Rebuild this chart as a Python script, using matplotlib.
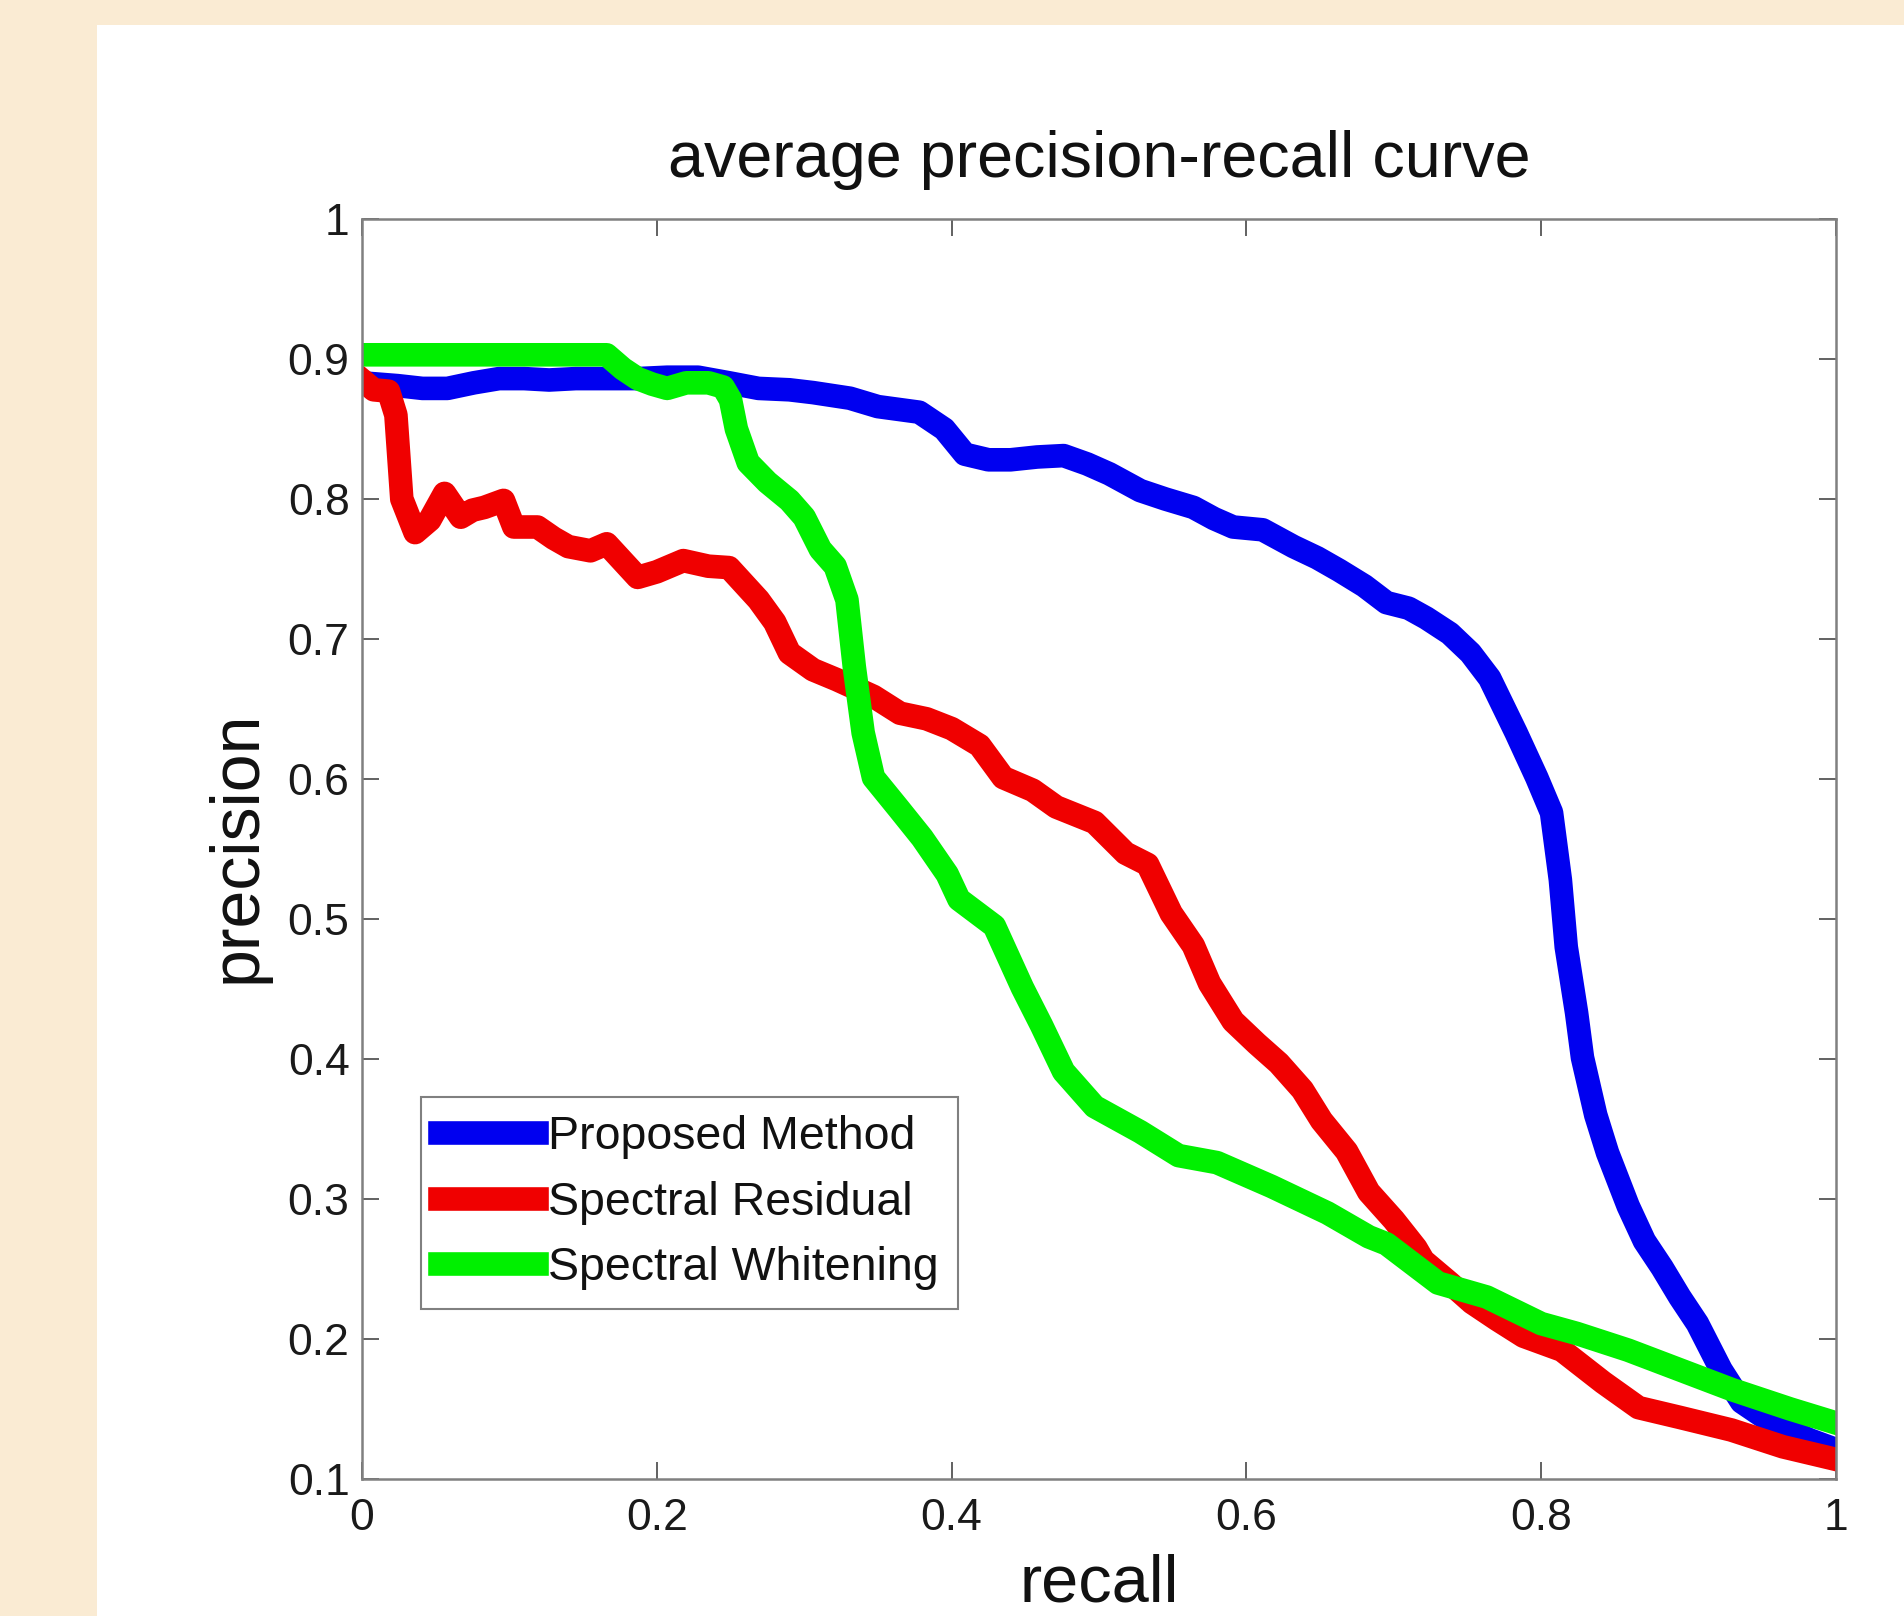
import numpy as np
import matplotlib
matplotlib.use("Agg")
import matplotlib.pyplot as plt
from matplotlib.patches import Rectangle

plt.rcParams['font.family'] = ['Liberation Sans', 'DejaVu Sans']

# proposed method (blue)
rec_prop = [0, .024, .041, .058, .076, .093, .110, .127, .145, .166, .187, .207, .228, .249,
            .269, .290, .306, .331, .350, .378, .395, .409, .425, .440, .458, .476, .492, .507,
            .528, .545, .564, .578, .591, .611, .632, .648, .663, .680, .695, .710, .722, .738,
            .752, .765, .783, .797, .807, .813, .817, .824, .828, .837, .845, .859, .870, .882,
            .894, .906, .922, .936, .950, .964, .982, 1.0]
prec_prop = [.883, .881, .879, .879, .883, .886, .886, .885, .886, .886, .886, .887, .887, .883,
             .879, .878, .876, .872, .866, .862, .850, .832, .828, .828, .830, .831, .825, .818,
             .806, .800, .794, .786, .780, .778, .766, .758, .749, .738, .726, .722, .715, .704,
             .690, .672, .633, .601, .576, .528, .480, .433, .401, .360, .333, .295, .270, .251,
             .230, .211, .178, .155, .145, .137, .128, .121]

# spectral residual (red)
rec_sr = [0, .008, .018, .023, .027, .036, .046, .056, .067, .075, .083, .096, .103, .119, .130,
          .140, .155, .166, .187, .200, .218, .235, .249, .269, .280, .290, .306, .322, .347, .365,
          .383, .400, .419, .435, .455, .471, .497, .518, .533, .549, .564, .575, .591, .607, .622,
          .638, .651, .668, .683, .700, .715, .720, .738, .753, .770, .788, .814, .842, .866, .894,
          .929, .964, 1.0]
prec_sr = [.885, .878, .877, .860, .800, .776, .785, .804, .787, .792, .794, .799, .780, .780, .772,
           .766, .763, .768, .744, .748, .756, .752, .751, .728, .712, .690, .678, .671, .659, .647,
           .643, .636, .624, .601, .592, .580, .569, .547, .539, .504, .481, .454, .427, .411, .397,
           .378, .356, .334, .305, .285, .265, .256, .240, .226, .214, .202, .192, .169, .151, .144,
           .135, .123, .114]

# spectral whitening (green)
rec_sw = [0, .05, .10, .166, .177, .187, .197, .207, .220, .235, .245, .250, .254, .262, .275, .290,
          .300, .311, .321, .329, .334, .340, .347, .364, .380, .397, .405, .429, .448, .461, .476,
          .497, .528, .554, .580, .617, .655, .683, .695, .730, .763, .800, .824, .859, .894, .929,
          .969, 1.0]
prec_sw = [.903, .903, .903, .903, .893, .886, .882, .879, .883, .883, .880, .871, .850, .826, .812,
           .799, .787, .764, .752, .728, .680, .633, .601, .579, .558, .532, .514, .495, .451, .424,
           .391, .366, .348, .331, .326, .309, .290, .273, .268, .240, .230, .211, .204, .192, .178,
           .164, .150, .140]

labels = ['Proposed Method', 'Spectral Residual', 'Spectral Whitening']
xticks = [0, 0.2, 0.4, 0.6, 0.8, 1]
xtick_labels = ['0', '0.2', '0.4', '0.6', '0.8', '1']
yticks = [0.1, 0.2, 0.3, 0.4, 0.5, 0.6, 0.7, 0.8, 0.9, 1]
ytick_labels = ['0.1', '0.2', '0.3', '0.4', '0.5', '0.6', '0.7', '0.8', '0.9', '1']

fig = plt.figure(figsize=(19.04, 16.16), dpi=100, facecolor='#FAEBD3')
fig.patches.append(Rectangle((97/1904, 0), 1, 1 - 25/1616, transform=fig.transFigure,
                             facecolor='white', edgecolor='none', zorder=-10))

ax = fig.add_axes([362/1904, 1 - 1479/1616, 1474/1904, 1260/1616])
ax.set_zorder(1)
ax.set_facecolor('white')

lw = 17
ax.plot(rec_prop, prec_prop, color='#0000F0', lw=lw, label=labels[0], solid_joinstyle='round')
ax.plot(rec_sr, prec_sr, color='#F00000', lw=lw, label=labels[1], solid_joinstyle='round')
ax.plot(rec_sw, prec_sw, color='#00F000', lw=lw, label=labels[2], solid_joinstyle='round')

ax.set_xlim(0, 1)
ax.set_ylim(0.1, 1)
ax.set_xticks(xticks)
ax.set_xticklabels(xtick_labels)
ax.set_yticks(yticks)
ax.set_yticklabels(ytick_labels)
ax.tick_params(direction='in', top=True, right=True, length=12, width=1.3,
               color='#555555', labelsize=32, labelcolor='#1a1a1a')
ax.tick_params(axis='x', pad=14)
ax.tick_params(axis='y', pad=9)
for s in ax.spines.values():
    s.set_color('#808080')
    s.set_linewidth(1.8)

ax.set_title('average precision-recall curve', fontsize=46.5, color='#111111', pad=30)
ax.set_xlabel('recall', fontsize=48, color='#111111')
ax.set_ylabel('precision', fontsize=49, color='#111111')
ax.xaxis.set_label_coords(0.5, -0.059)
ax.yaxis.set_label_coords(-0.0624, 0.502)

leg = ax.legend(loc='lower left', bbox_to_anchor=(0.040, 0.135), fontsize=33.5,
                fancybox=False, framealpha=1, edgecolor='#808080',
                handlelength=2.1, handletextpad=0.24, labelspacing=0.46,
                borderpad=0.4, borderaxespad=0)
leg.get_frame().set_linewidth(1.5)
for t in leg.get_texts():
    t.set_color('#111111')

fig.savefig('out.png', dpi=100, facecolor=fig.get_facecolor())
